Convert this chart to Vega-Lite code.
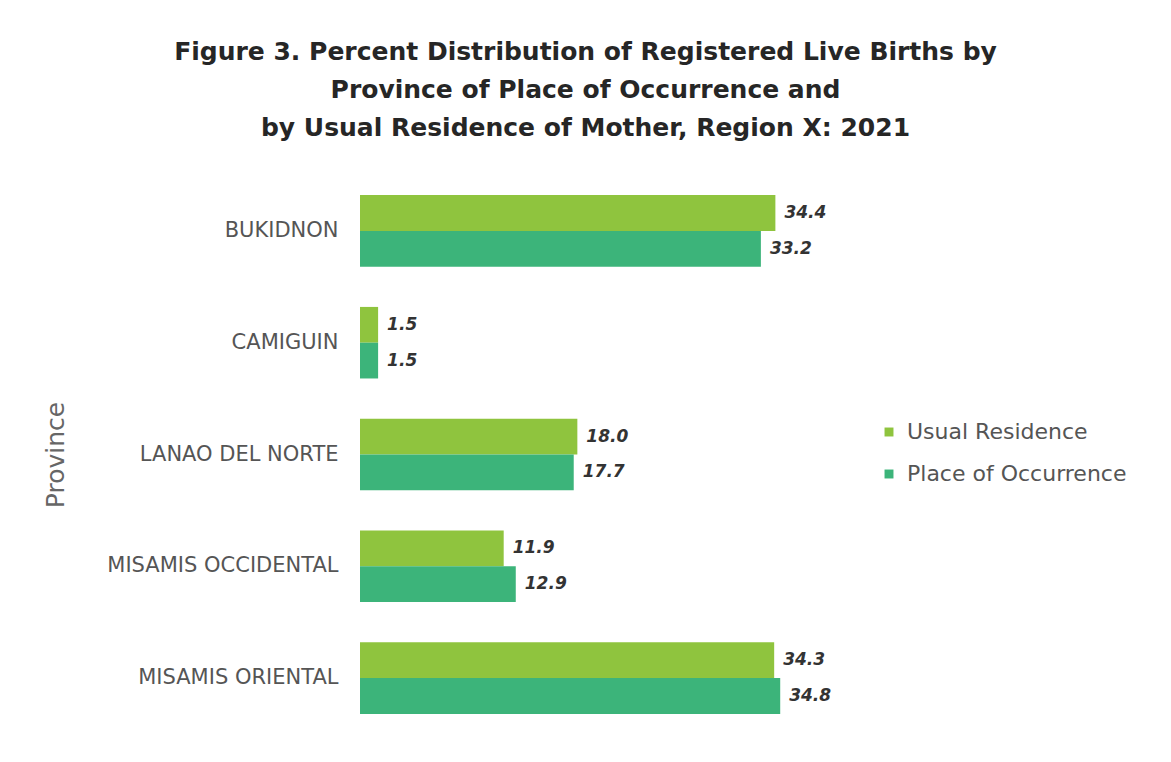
{
  "$schema": "https://vega.github.io/schema/vega-lite/v6.json",
  "width": 483,
  "height": 559,
  "autosize": {"type": "none"},
  "padding": {"left": 360, "top": 175, "right": 328, "bottom": 28},
  "background": "white",
  "config": {"view": {"stroke": null}},
  "title": {
    "text": ["Figure 3. Percent Distribution of Registered Live Births by", "Province of Place of Occurrence and", "by Usual Residence of Mother, Region X: 2021"],
    "anchor": "middle",
    "dx": -16,
    "offset": 34,
    "font": "DejaVu Sans",
    "fontSize": 25,
    "fontWeight": "bold",
    "color": "#262626",
    "lineHeight": 38
  },
  "data": {
    "values": [
      {"province": "BUKIDNON", "series": "Usual Residence", "value": 34.4},
      {"province": "BUKIDNON", "series": "Place of Occurrence", "value": 33.2},
      {"province": "CAMIGUIN", "series": "Usual Residence", "value": 1.5},
      {"province": "CAMIGUIN", "series": "Place of Occurrence", "value": 1.5},
      {"province": "LANAO DEL NORTE", "series": "Usual Residence", "value": 18.0},
      {"province": "LANAO DEL NORTE", "series": "Place of Occurrence", "value": 17.7},
      {"province": "MISAMIS OCCIDENTAL", "series": "Usual Residence", "value": 11.9},
      {"province": "MISAMIS OCCIDENTAL", "series": "Place of Occurrence", "value": 12.9},
      {"province": "MISAMIS ORIENTAL", "series": "Usual Residence", "value": 34.3},
      {"province": "MISAMIS ORIENTAL", "series": "Place of Occurrence", "value": 34.8}
    ]
  },
  "encoding": {
    "y": {
      "field": "province",
      "type": "nominal",
      "sort": null,
      "scale": {"paddingInner": 0.36, "paddingOuter": 0.18},
      "axis": {
        "title": "Province",
        "domain": false,
        "ticks": false,
        "labelPadding": 22,
        "labelFont": "DejaVu Sans",
        "labelFontSize": 21,
        "labelColor": "#555555",
        "labelLimit": 400,
        "titleFont": "DejaVu Sans",
        "titleFontSize": 25,
        "titleFontWeight": "normal",
        "titleColor": "#666666",
        "titleX": -292
      }
    },
    "yOffset": {
      "field": "series",
      "type": "nominal",
      "sort": ["Usual Residence", "Place of Occurrence"],
      "scale": {"paddingInner": 0, "paddingOuter": 0}
    },
    "x": {
      "field": "value",
      "type": "quantitative",
      "scale": {"domain": [0, 40]},
      "axis": null
    }
  },
  "layer": [
    {
      "mark": {"type": "bar"},
      "encoding": {
        "color": {
          "field": "series",
          "type": "nominal",
          "scale": {"domain": ["Usual Residence", "Place of Occurrence"], "range": ["#8fc43e", "#3cb47a"]},
          "legend": {
            "title": null,
            "orient": "none",
            "legendX": 518,
            "legendY": 246,
            "symbolType": "square",
            "symbolSize": 80,
            "labelFont": "DejaVu Sans",
            "labelFontSize": 22,
            "labelColor": "#555555",
            "labelLimit": 400,
            "rowPadding": 20,
            "labelOffset": 7
          }
        }
      }
    },
    {
      "mark": {"type": "text", "align": "left", "dx": 9, "font": "DejaVu Sans", "fontSize": 17, "fontStyle": "italic", "fontWeight": "bold", "color": "#333333"},
      "encoding": {
        "text": {"field": "value", "type": "quantitative", "format": ".1f"}
      }
    }
  ]
}
